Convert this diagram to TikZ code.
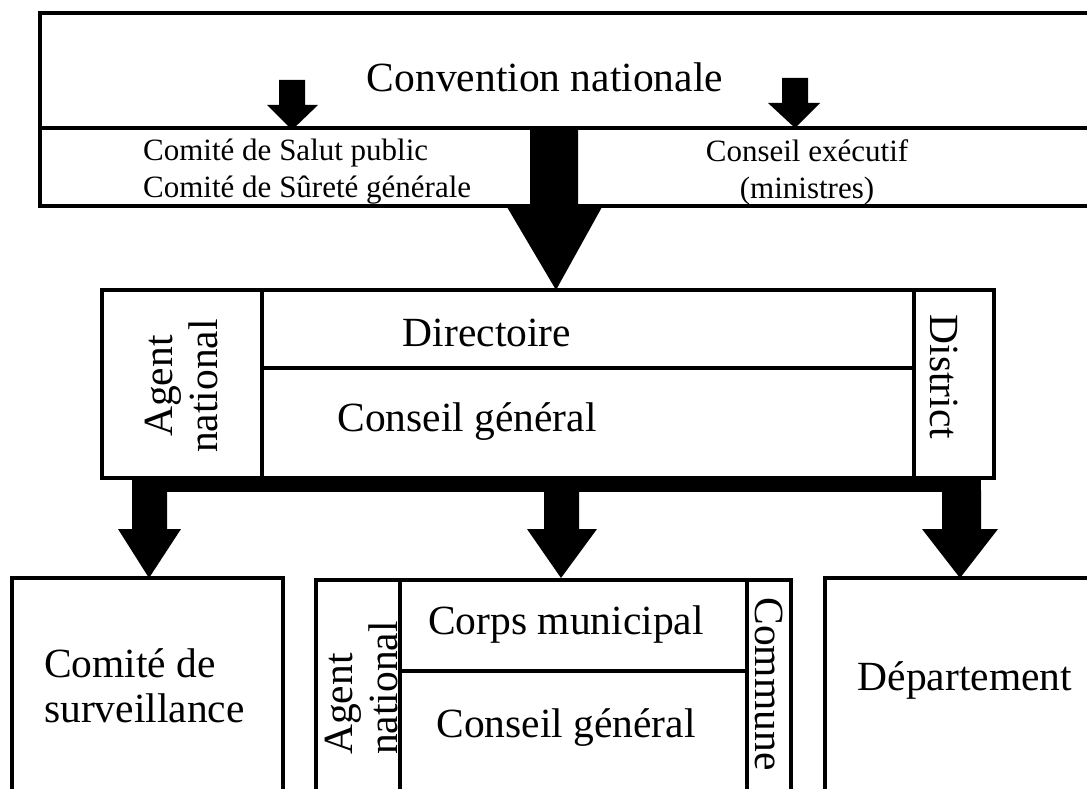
\documentclass[tikz,border=0pt]{standalone}
\usepackage{fontspec}
\setmainfont{Liberation Serif}
\begin{document}
\begin{tikzpicture}[x=1pt,y=-1pt,
  box/.style={draw,line width=3.5pt},
  lbl/.style={font=\fontsize{41.5}{45}\selectfont,inner sep=0pt},
  small/.style={font=\fontsize{31}{37}\selectfont,inner sep=0pt},
  blk/.style={fill=black}]
\clip (0,0) rectangle (1087,789);
% top box
\draw[box] (40,13) rectangle (1110,206);
\draw[box] (40,128) -- (1110,128);
\node[lbl] (conv) at (545,77) {Convention nationale};
\node[small,align=left,anchor=west] (csp) at (143,172) {Comité de Salut public\\Comité de Sûreté générale};
\node[small,align=center] (ce) at (807,172) {Conseil exécutif\\(ministres)};
% small arrows
\fill[blk] (279,80) -- (305,80) -- (305,105) -- (318,105) -- (292,130) -- (267,105) -- (279,105) -- cycle;
\fill[blk] (782,78) -- (808,78) -- (808,103) -- (820,103) -- (795,128) -- (768,103) -- (782,103) -- cycle;
% big arrow
\fill[blk] (530,128) -- (578,128) -- (578,207) -- (602,207) -- (556,290) -- (507,207) -- (530,207) -- cycle;
% middle box
\draw[box] (102,290) rectangle (994,478);
\draw[box] (262,290) -- (262,478);
\draw[box] (914,290) -- (914,478);
\draw[box] (262,368) -- (914,368);
\node[lbl] (dir) at (487,333) {Directoire};
\node[lbl] (cg1) at (467,422) {Conseil général};
\node[lbl,rotate=90,align=center] (an1) at (182,386) {Agent\\national};
\node[lbl,rotate=-90] (dist) at (944,377) {District};
% bar and arrows
\fill[blk] (132,476) rectangle (981,492);
\fill[blk] (132,490) -- (167,490) -- (167,529) -- (181,529) -- (149,578) -- (118,529) -- (132,529) -- cycle;
\fill[blk] (544,490) -- (579,490) -- (579,529) -- (597,529) -- (561,578) -- (527,529) -- (544,529) -- cycle;
\fill[blk] (942,490) -- (981,490) -- (981,529) -- (998,529) -- (960,578) -- (922,529) -- (942,529) -- cycle;
% bottom boxes
\draw[box] (12,578) rectangle (283,810);
\node[lbl,align=left,anchor=west] (cs) at (44,686) {Comité de\\surveillance};
\draw[box] (316,580) rectangle (791,810);
\draw[box] (400,580) -- (400,810);
\draw[box] (747,580) -- (747,810);
\draw[box] (400,671) -- (747,671);
\node[lbl] (corps) at (566,625) {Corps municipal};
\node[lbl] (cg2) at (566,728) {Conseil général};
\node[lbl,rotate=90,anchor=west,align=left] (an2) at (361,755) {Agent\\national};
\node[lbl,rotate=-90] (comm) at (769,684) {Commune};
\draw[box] (825,578) rectangle (1110,810);
\node[lbl] (dep) at (965,680) {Département};
\end{tikzpicture}
\end{document}
